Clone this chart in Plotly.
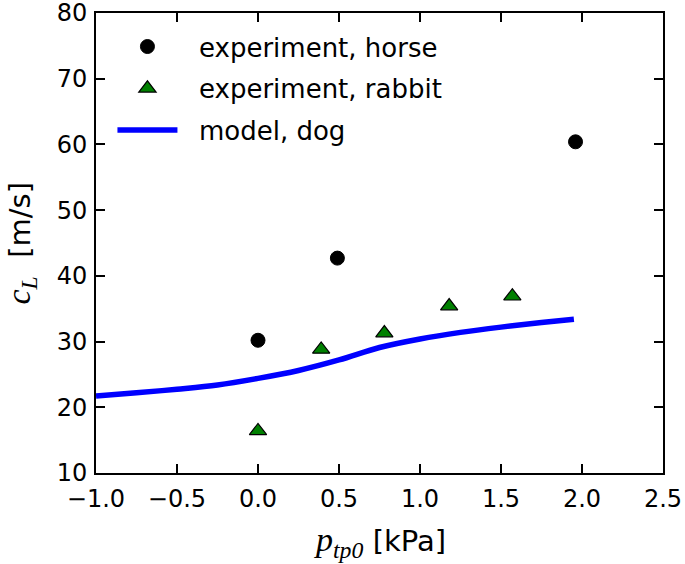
import plotly.graph_objects as go

horse_x = [0.0, 0.49, 1.96]
horse_y = [30.2, 42.7, 60.4]
rabbit_x = [0.0, 0.39, 0.78, 1.18, 1.57]
rabbit_y = [16.4, 28.8, 31.3, 35.4, 36.9]
model_x = [-1.0, -0.75, -0.5, -0.25, 0.0, 0.25, 0.5, 0.75, 1.0, 1.25, 1.5, 1.75, 1.95]
model_y = [21.7, 22.2, 22.75, 23.4, 24.4, 25.6, 27.2, 29.1, 30.4, 31.4, 32.2, 32.9, 33.4]

x_ticks = [-1.0, -0.5, 0.0, 0.5, 1.0, 1.5, 2.0, 2.5]
y_ticks = [10, 20, 30, 40, 50, 60, 70, 80]

NB = "\u00a0\u00a0"

fig = go.Figure()
fig.add_trace(go.Scatter(x=horse_x, y=horse_y, mode="markers", name=NB + "experiment, horse",
                         legendgroup="a",
                         marker=dict(symbol="circle", size=14, color="black",
                                     line=dict(color="black", width=1))))
fig.add_trace(go.Scatter(x=rabbit_x, y=rabbit_y, mode="markers", name=NB + "experiment, rabbit",
                         legendgroup="b",
                         marker=dict(symbol="triangle-up", size=15, color="#008000",
                                     line=dict(color="black", width=1.2))))
fig.add_trace(go.Scatter(x=model_x, y=model_y, mode="lines", name=NB + "model, dog",
                         legendgroup="c",
                         line=dict(color="#0000ff", width=5.5, shape="spline")))

axis_common = dict(showline=True, linecolor="black", linewidth=2, mirror="ticks",
                   ticks="inside", ticklen=9, tickwidth=1.5, tickcolor="black",
                   showgrid=False, zeroline=False, automargin=False,
                   ticklabeloverflow="allow",
                   tickfont=dict(family="DejaVu Sans", size=24, color="black"))

fig.update_xaxes(range=[-1.0, 2.5], tickvals=x_ticks,
                 ticktext=[f"{v:.1f}".replace("-", "\u2212") for v in x_ticks],
                 ticklabelstandoff=3, **axis_common)
fig.update_yaxes(range=[10, 80], tickvals=y_ticks, ticktext=[str(v) for v in y_ticks],
                 ticklabelstandoff=2, **axis_common)

fig.add_annotation(xref="paper", yref="paper", x=0.5, y=-0.15, yanchor="middle",
                   showarrow=False,
                   text='<span style="font-family:Liberation Serif;font-size:34px"><i>p</i><sub><i>tp0</i></sub></span> [kPa]',
                   font=dict(family="DejaVu Sans", size=29, color="black"))
fig.add_annotation(xref="paper", yref="paper", x=-0.133, y=0.5, xanchor="center",
                   textangle=-90, showarrow=False,
                   text='<span style="font-family:Liberation Serif;font-size:34px"><i>c</i><sub><i>L</i></sub></span>  [m/s]',
                   font=dict(family="DejaVu Sans", size=29, color="black"))

fig.update_layout(width=685, height=564, margin=dict(l=96, r=22, t=13, b=91),
                  plot_bgcolor="white", paper_bgcolor="white",
                  font=dict(family="DejaVu Sans", size=24, color="black"),
                  legend=dict(x=0.029, y=0.978, xanchor="left", yanchor="top",
                              bgcolor="rgba(0,0,0,0)", borderwidth=0,
                              font=dict(family="DejaVu Sans", size=26, color="black"),
                              itemwidth=60, tracegroupgap=5),
                  showlegend=True)

fig.write_html("out.html", config={"displayModeBar": False},
               post_script="document.body.style.margin='0';document.body.style.overflow='hidden';")
